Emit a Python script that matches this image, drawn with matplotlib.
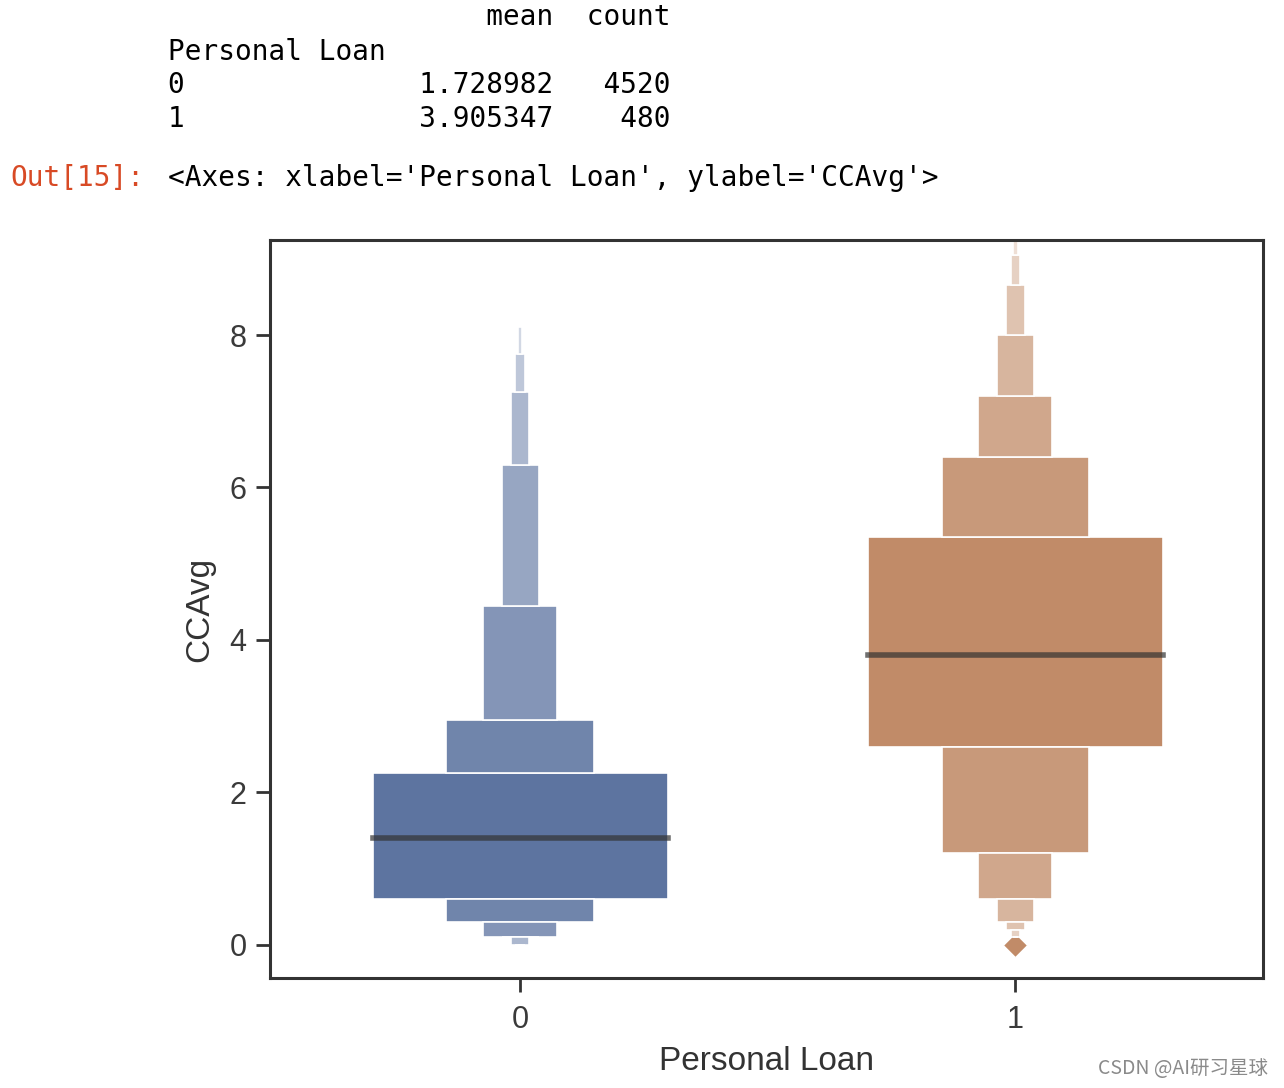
import matplotlib
matplotlib.use('Agg')
import matplotlib.pyplot as plt
from matplotlib.patches import Rectangle
import numpy as np

plt.rcParams['font.family'] = ['Liberation Sans', 'DejaVu Sans']

# groupby 结果 (mean, count)
loan_groups = ['0', '1']
mean_ccavg = [1.728982, 3.905347]
count_ccavg = [4520, 480]

# boxen 各层分位数, 从中间往外
medians = [1.4, 3.8]
low_q = [[0.6, 0.3, 0.1, 0.1, 0.0, 0.0, 0.0],
         [2.6, 1.2, 0.6, 0.3, 0.2, 0.1, 0.1]]
high_q = [[2.25, 2.95, 4.45, 6.3, 7.25, 7.75, 8.1],
          [5.35, 6.4, 7.2, 8.0, 8.65, 9.05, 9.3]]
outliers = [[], [0.0]]

base_colors = ['#5d74a0', '#c18b68']

W, H = 1284, 1088
fig = plt.figure(figsize=(W / 100, H / 100), dpi=100)


def px(x, y):
    return x / W, 1 - y / H


# 表格输出文字
mono = 'DejaVu Sans Mono'
lines = [' ' * 19 + 'mean  count', 'Personal Loan']
for g, m, c in zip(loan_groups, mean_ccavg, count_ccavg):
    lines.append('%-15s%.6f%7d' % (g, m, c))
for i, line in enumerate(lines):
    fig.text(*px(168, 17 + 33.7 * i + (1 if i else 0)), line, family=mono, fontsize=20,
             va='center', ha='left', color='black')
fig.text(*px(10, 178), 'Out[15]:', family=mono, fontsize=20,
         va='center', ha='left', color='#d84a25')
fig.text(*px(168, 178), "<Axes: xlabel='Personal Loan', ylabel='CCAvg'>",
         family=mono, fontsize=20, va='center', ha='left', color='black')

ax = fig.add_axes([270 / W, 1 - 978 / H, (1263 - 270) / W, (978 - 240) / H])

box_w = 0.596
for gi in range(len(loan_groups)):
    base = np.array(matplotlib.colors.to_rgb(base_colors[gi]))
    lo, hi = low_q[gi], high_q[gi]
    for i in range(len(lo)):
        w = box_w * 0.5 ** i
        col = base + (1 - base) * 0.12 * i
        if i == 0:
            spans = [(lo[0], hi[0])]
        else:
            spans = [(lo[i], lo[i - 1]), (hi[i - 1], hi[i])]
        for a, b in spans:
            ax.add_patch(Rectangle((gi - w / 2, a), w, b - a, facecolor=col,
                                   edgecolor='white', linewidth=1.2, zorder=2))
    ax.plot([gi - box_w / 2, gi + box_w / 2], [medians[gi]] * 2,
            color='#333333', alpha=0.7, lw=4, solid_capstyle='projecting', zorder=3)
    if outliers[gi]:
        ax.plot([gi] * len(outliers[gi]), outliers[gi], 'D', color=base_colors[gi],
                markersize=12, markeredgecolor='white', markeredgewidth=0.8, zorder=1)

ax.set_xlim(-0.505, 1.5)
ax.set_ylim(-0.433, 9.246)
ax.set_xticks(range(len(loan_groups)))
ax.set_xticklabels(loan_groups)
ax.set_yticks([0, 2, 4, 6, 8])

ax.set_xlabel('Personal Loan', fontsize=24, color='#333333', labelpad=8)
ax.set_ylabel('CCAvg', fontsize=24, color='#333333', labelpad=10)
ax.tick_params(axis='both', direction='out', length=10, width=2, pad=7,
               labelsize=22, color='#333333', labelcolor='#3a3a3a')
ax.tick_params(axis='x', pad=9.5)
for s in ax.spines.values():
    s.set_linewidth(2.2)
    s.set_color('#333333')

fig.text(*px(1268, 1068), 'CSDN @AI研习星球', ha='right', va='center',
         color='#8a8a8a', fontsize=14, family=['Noto Sans CJK SC', 'DejaVu Sans'])

fig.savefig('out.png', dpi=100)
